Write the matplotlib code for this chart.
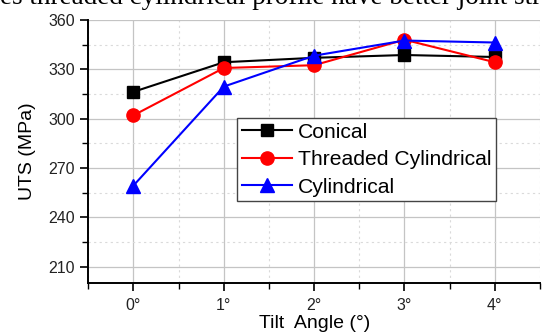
import matplotlib
matplotlib.use("Agg")
import matplotlib.pyplot as plt
from matplotlib.ticker import MultipleLocator

# values
angles = [0, 1, 2, 3, 4]
angle_labels = ["0°", "1°", "2°", "3°", "4°"]
conical = [316.3, 334.3, 337.0, 338.7, 337.5]
threaded_cyl = [302.0, 330.8, 332.5, 348.0, 334.3]
cylindrical = [259.3, 319.5, 338.3, 347.5, 346.3]

plt.rcParams["font.family"] = ["Liberation Sans", "DejaVu Sans"]

fig = plt.figure(figsize=(5.42, 3.34), dpi=100)
ax = fig.add_axes([88.3 / 542, 51 / 334, 451.7 / 542, 263 / 334])

# clipped caption line from the page above the figure (cut off in the reference too)
fig.text(0.0, 330.5 / 334, "es threaded cylindrical profile have better joint strength",
         family="Liberation Serif", fontsize=19.5, va="baseline", ha="left")

ax.plot(angles, conical, color="black", lw=1.5, marker="s", ms=8.5, label="Conical", zorder=3)
ax.plot(angles, threaded_cyl, color="#ff0000", lw=1.5, marker="o", ms=9.5,
        label="Threaded Cylindrical", zorder=3)
ax.plot(angles, cylindrical, color="#0000ff", lw=1.5, marker="^", ms=10.5,
        label="Cylindrical", zorder=3)

ax.set_xlim(-0.5, 4.5)
ax.set_ylim(200, 360)
ax.set_xticks(angles)
ax.set_xticklabels(angle_labels)
ax.xaxis.set_minor_locator(MultipleLocator(0.5))
ax.yaxis.set_minor_locator(MultipleLocator(15))
ax.set_yticks([210, 240, 270, 300, 330, 360])

ax.grid(which="major", color="#c4c4c4", lw=0.9, ls="-")
ax.grid(which="minor", color="#dadada", lw=0.8, ls=(0, (2, 3)))
ax.set_axisbelow(True)

for side in ["top", "right"]:
    ax.spines[side].set_visible(False)
for side in ["left", "bottom"]:
    ax.spines[side].set_linewidth(1.4)

ax.tick_params(which="major", direction="out", length=6, width=1.2, labelsize=11.5,
               colors="black", labelcolor="#222222")
ax.tick_params(axis="x", which="major", pad=5)
ax.tick_params(which="minor", direction="out", length=4, width=1.0)

ax.set_xlabel("Tilt  Angle (°)", fontsize=14, labelpad=1)
ax.set_ylabel("UTS (MPa)", fontsize=14, labelpad=9)

leg = ax.legend(loc="upper left", bbox_to_anchor=(0.329, 0.627), fontsize=15.2,
                frameon=True, fancybox=False, framealpha=1, edgecolor="#444444",
                borderpad=0.22, labelspacing=0.4, handlelength=2.4, handletextpad=0.28,
                borderaxespad=0)
leg.get_frame().set_linewidth(1.0)

fig.savefig("out.png", dpi=100)
